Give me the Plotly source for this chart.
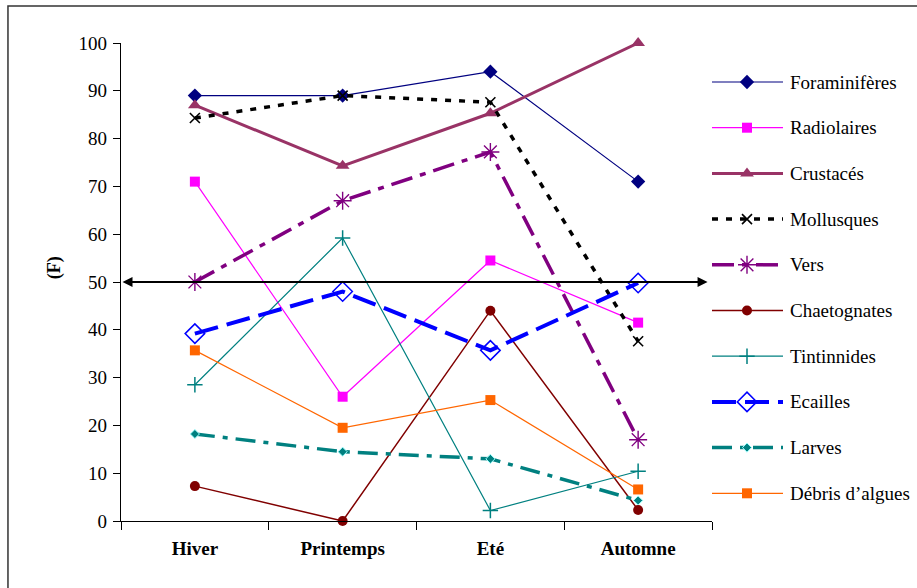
import plotly.graph_objects as go

# Seasons on the x axis
saisons = ["Hiver", "Printemps", "Eté", "Automne"]

# Frequency (F) of each prey group per season
foraminiferes = [89, 89, 94, 71]
radiolaires = [71, 26, 54.5, 41.5]
crustaces = [87, 74.3, 85.3, 100]
mollusques = [84.3, 89, 87.6, 37.6]
vers = [50, 67, 77.2, 17]
chaetognates = [7.3, 0, 44, 2.3]
tintinnides = [28.5, 59.2, 2.2, 10.4]
ecailles = [39.2, 48, 35.7, 49.8]
larves = [18.2, 14.5, 13, 4.3]
debris = [35.7, 19.5, 25.3, 6.6]

# Threshold drawn as a double arrow
seuil = 50

FONT = "'Liberation Serif', 'DejaVu Serif', serif"

series = [
    # name, values, line color, width, dash, marker symbol, marker size, marker fill, marker line color, marker line width
    ("Foraminifères", foraminiferes, "#000080", 1.2, "solid", "diamond", 11, "#000080", "#000080", 0),
    ("Radiolaires", radiolaires, "#FF00FF", 1.2, "solid", "square", 10, "#FF00FF", "#FF00FF", 0),
    ("Crustacés", crustaces, "#993366", 3, "solid", "triangle-up", 12, "#993366", "#993366", 0),
    ("Mollusques", mollusques, "#000000", 3.5, "6px,8px", "x-thin-open", 10, "#000000", "#000000", 1.6),
    ("Vers", vers, "#800080", 3.5, "22px,8px,6px,8px", "asterisk-open", 15, "#800080", "#800080", 1.4),
    ("Chaetognates", chaetognates, "#800000", 1.5, "solid", "circle", 10, "#800000", "#800000", 0),
    ("Tintinnides", tintinnides, "#008080", 1.2, "solid", "cross-thin-open", 11, "#008080", "#008080", 1.5),
    ("Ecailles", ecailles, "#0000FF", 4, "24px,9px", "diamond-open", 15, "#0000FF", "#0000FF", 1.5),
    ("Larves", larves, "#008080", 3.5, "20px,8px,5px,8px", "diamond", 7, "#008080", "#9FFFFF", 1),
    ("Débris d\u2019algues", debris, "#FF6600", 1.2, "solid", "square", 10, "#FF6600", "#FF6600", 0),
]

fig = go.Figure()

for name, vals, col, w, dash, sym, size, fill, mlc, mlw in series:
    fig.add_trace(go.Scatter(
        x=saisons, y=vals, mode="lines+markers", name=name,
        line=dict(color=col, width=w, dash=dash),
        marker=dict(symbol=sym, size=size, color=fill, line=dict(color=mlc, width=mlw)),
        cliponaxis=False, showlegend=False,
        xaxis="x", yaxis="y",
    ))

# Hand-built legend on a second pair of axes (coordinates in pixels of the legend panel)
leg_x0, leg_x1, leg_xm, leg_xt = 712, 783, 747, 788
leg_y0, leg_dy = 82, 45.7
for i, (name, vals, col, w, dash, sym, size, fill, mlc, mlw) in enumerate(series):
    yy = leg_y0 + i * leg_dy
    fig.add_trace(go.Scatter(
        x=[leg_x0, leg_x1], y=[yy, yy], mode="lines",
        line=dict(color=col, width=w, dash=dash),
        showlegend=False, hoverinfo="skip", xaxis="x2", yaxis="y2", cliponaxis=False,
    ))
    fig.add_trace(go.Scatter(
        x=[leg_xm], y=[yy], mode="markers",
        marker=dict(symbol=sym, size=size, color=fill, line=dict(color=mlc, width=mlw)),
        showlegend=False, hoverinfo="skip", xaxis="x2", yaxis="y2", cliponaxis=False,
    ))
    fig.add_annotation(
        x=leg_xt, y=yy, xref="x2", yref="y2", text=name, showarrow=False,
        xanchor="left", yanchor="middle",
        font=dict(family=FONT, size=19, color="#000000"),
    )

# Double-headed arrow at the threshold
fig.add_annotation(
    x=3.47, y=seuil, xref="x", yref="y",
    ax=-0.5, ay=seuil, axref="x", ayref="y",
    text="", showarrow=True, arrowhead=2, startarrowhead=2,
    arrowside="end+start", arrowsize=1, startarrowsize=1,
    arrowwidth=2, arrowcolor="#000000",
)

# Y axis title
fig.add_annotation(
    x=-0.099, y=0.53, xref="paper", yref="paper", text="<b>(F)</b>",
    textangle=-90, showarrow=False,
    font=dict(family=FONT, size=18, color="#000000"),
)

# Outer frame
fig.add_shape(
    type="rect", xref="paper", yref="paper",
    x0=-0.142, x1=1.01, y0=-0.16, y1=1.0774,
    line=dict(color="#333333", width=1.5), fillcolor="rgba(0,0,0,0)", layer="below",
)

W, H = 917, 588
ml, mr, mt, mb = 121, 0, 43, 67
f = (712 - 121) / (W - ml - mr)

fig.update_layout(
    width=W, height=H,
    margin=dict(l=ml, r=mr, t=mt, b=mb),
    paper_bgcolor="white", plot_bgcolor="white",
    showlegend=False,
    font=dict(family=FONT),
    xaxis=dict(
        domain=[0, f], type="category", range=[-0.5, 3.5],
        tickson="boundaries", ticks="outside", ticklen=8, tickcolor="#000000",
        showline=True, linecolor="#000000", linewidth=1.2,
        showgrid=False, zeroline=False,
        tickfont=dict(family=FONT, size=19, color="#000000", weight="bold"),
        ticklabelstandoff=10,
    ),
    yaxis=dict(
        range=[0, 100], dtick=10, ticks="outside", ticklen=7, tickcolor="#000000",
        showline=True, linecolor="#000000", linewidth=1.2,
        showgrid=False, zeroline=False,
        tickfont=dict(family=FONT, size=19, color="#000000"),
        ticklabelstandoff=2,
    ),
    xaxis2=dict(domain=[f, 1], range=[712, 917], visible=False, anchor="y2"),
    yaxis2=dict(domain=[0, 1], range=[521, 43], visible=False, anchor="x2"),
)

fig.write_html("out.html")
